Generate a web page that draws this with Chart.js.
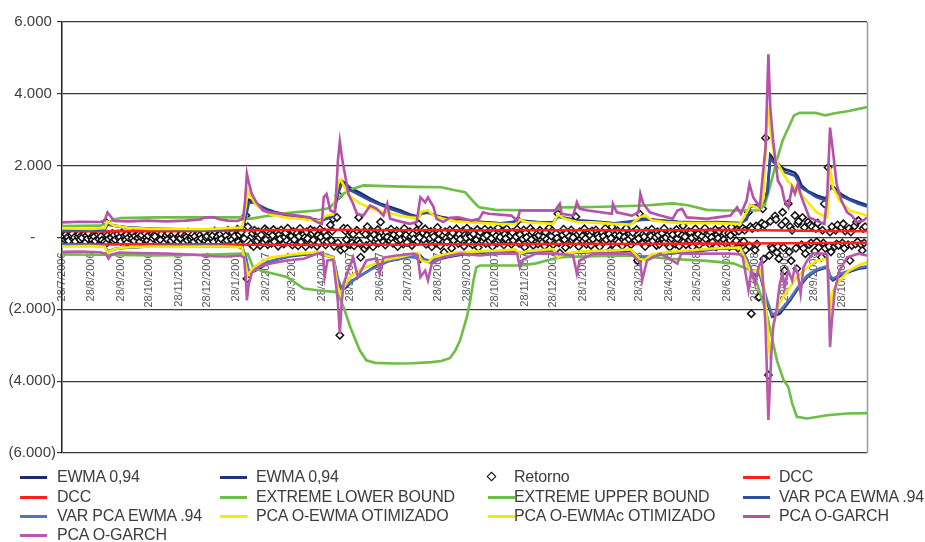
<!DOCTYPE html>
<html>
<head>
<meta charset="utf-8">
<script src="https://cdn.jsdelivr.net/npm/chart.js@4.4.1/dist/chart.umd.min.js"></script>
<style>
  html, body { margin: 0; padding: 0; background: #ffffff; }
  #wrap { position: relative; width: 925px; height: 542px; overflow: hidden; }
  #chart { position: absolute; left: 0; top: 0; }
  .lg-item { position: absolute; font-family: "Liberation Sans", Arial, sans-serif; font-size: 16px;
             letter-spacing: -0.2px; color: #3c3c3c; white-space: nowrap; line-height: 20px; height: 20px; }
  .lg-line { position: absolute; width: 27px; height: 3px; }
  .lg-diamond { position: absolute; width: 5px; height: 5px; border: 1.3px solid #000; background: #fff;
                transform: rotate(45deg); }
</style>
</head>
<body>
<div id="wrap">
  <canvas id="chart" width="925" height="542"></canvas>
</div>
<script>
// Observation days are counted from 28/7/2006.
const START_DATE = Date.UTC(2006, 6, 28);
const LAST_DAY = 849;

// Monthly axis labels
const monthLabels = [
  '28/7/2006', '28/8/2006', '28/9/2006', '28/10/2006', '28/11/2006', '28/12/2006',
  '28/1/2007', '28/2/2007', '28/3/2007', '28/4/2007', '28/5/2007', '28/6/2007',
  '28/7/2007', '28/8/2007', '28/9/2007', '28/10/2007', '28/11/2007', '28/12/2007',
  '28/1/2008', '28/2/2008', '28/3/2008', '28/4/2008', '28/5/2008', '28/6/2008',
  '28/7/2008', '28/8/2008', '28/9/2008', '28/10/2008'
];

// Y axis range
const yTicks = [-6000, -4000, -2000, 0, 2000, 4000, 6000];

// Daily return, one value per trading day starting 28/7/2006
const retorno = [
  30,-50,80,-20,10,-90,60,110,-40,0,-110,20,90,-60,40,-10,100,-130,50,-30,
  120,-10,-70,60,20,-100,90,-50,140,30,-80,-120,430,-160,60,-40,0,110,-90,70,
  -60,100,-20,10,-110,130,50,-70,80,-140,0,60,-30,120,-90,40,-10,90,-120,20,
  70,-50,110,0,-80,50,-130,90,-20,60,30,-100,140,-40,-70,100,-150,10,70,-60,
  120,-90,40,80,-30,130,-110,0,50,-20,100,-140,60,10,-80,150,-50,20,90,-120,
  30,-60,110,-100,70,-30,140,-90,0,40,-160,100,-10,60,-120,180,20,-70,-140,90,
  -40,160,-110,50,-80,200,0,-60,130,-170,40,230,-120,80,-200,150,-30,290,610,-1150,
  300,-180,20,120,-250,200,-90,160,0,-220,70,-130,240,-60,190,-200,110,-160,60,220,
  -120,150,-240,80,-40,210,-180,10,130,-90,260,-150,40,-210,170,-60,120,-230,30,250,
  -130,90,0,-250,160,-30,220,-190,110,-70,180,-240,60,-140,230,10,-100,150,-210,40,
  -120,350,-80,180,520,-240,560,-150,1170,-2720,-350,260,-300,180,-60,250,-200,120,-150,90,
  -230,200,-90,560,-170,-550,140,-310,90,-220,300,-180,-20,170,-260,80,-40,220,-150,10,
  430,-120,40,-210,150,10,-90,230,-30,-160,80,190,-250,20,110,-60,-180,250,-10,70,
  -140,160,30,-220,90,-40,200,-110,380,0,-590,130,-70,240,-190,60,-20,170,-260,100,
  20,-150,280,-60,110,-230,50,-410,160,-20,-120,210,40,-300,130,-80,240,10,-170,90,
  -50,190,-240,70,-10,260,-130,30,160,-200,100,-60,220,-280,50,150,-110,0,230,-170,
  60,-90,200,-20,-250,120,40,-150,270,-70,10,180,-210,90,-30,240,-120,50,-190,140,
  -80,20,230,470,-160,80,-40,210,-270,130,0,-110,250,-60,160,-220,30,100,-180,60,
  200,-130,10,-240,150,-50,270,-90,40,190,-200,110,-20,660,-150,-430,70,230,-60,-280,
  120,30,-190,210,-70,0,580,-140,90,-250,160,40,-100,240,-30,-190,130,60,-220,180,
  -40,210,-150,70,0,-260,140,30,-110,250,-60,100,-360,-20,300,-180,80,-90,190,-140,
  50,-230,170,10,-120,260,-50,110,-200,30,140,-80,220,-640,-30,660,-170,90,20,-250,
  180,-60,-140,40,230,-100,10,-220,160,70,-190,120,-40,250,-130,0,90,-270,150,-20,
  80,-180,220,-30,110,-240,60,330,-120,20,-200,170,-70,130,-10,-260,240,40,-150,90,
  -210,30,190,-110,260,-40,70,-190,150,0,-130,220,-260,80,-20,170,-100,230,-60,120,
  -170,120,-260,60,290,-200,150,-90,220,-300,180,-140,260,-110,200,-350,700,-240,300,-2120,
  250,-350,320,-180,280,-1660,400,800,-600,350,2770,-3830,-500,450,-250,-310,600,500,-420,-250,
  -590,350,700,-280,-920,450,940,-400,300,-650,200,610,-300,-870,380,450,-200,560,-300,280,
  -450,430,-200,350,-150,300,-380,250,-120,400,-280,-550,200,-150,940,-300,1950,-250,150,-400,
  300,-250,200,-180,350,-220,280,-150,380,-300,180,-200,250,-640,150,-220,320,-180,430,-120,
  470,-200,-360,250,-150,300
];

// Series: [day, value]
const ewmaUpper = [
  [0,220],[30,210],[45,230],[48,400],[55,330],[70,280],[93,250],[120,230],[150,220],[175,230],
  [190,250],[194,650],[197,1050],[202,1000],[209,880],[216,790],[226,700],[241,600],[262,520],[272,480],
  [278,560],[286,600],[291,1250],[295,1580],[299,1500],[304,1380],[314,1250],[325,1080],[335,950],[346,850],
  [357,750],[367,640],[376,580],[379,700],[386,720],[391,640],[402,560],[415,500],[430,460],[444,430],
  [460,400],[478,390],[483,480],[500,430],[518,420],[523,600],[530,550],[543,480],[560,450],[580,400],
  [600,380],[609,520],[615,520],[630,480],[650,440],[670,420],[690,430],[715,400],[722,520],[726,900],
  [733,850],[740,1000],[744,1300],[747,2300],[752,2150],[757,2000],[762,1900],[768,1850],[773,1800],[776,1700],
  [780,1450],[786,1300],[796,1170],[806,1080],[809,1400],[812,1450],[816,1350],[822,1200],[830,1080],[840,980],
  [849,900]
];
const ewmaLower = [
  [0,-230],[30,-220],[45,-240],[48,-400],[55,-320],[70,-280],[93,-250],[120,-240],[150,-230],[175,-240],
  [190,-260],[194,-600],[197,-1000],[202,-950],[209,-850],[216,-720],[226,-620],[241,-520],[262,-460],[272,-420],
  [278,-500],[286,-560],[291,-1200],[295,-1470],[299,-1400],[307,-1190],[321,-960],[335,-730],[346,-650],[357,-590],
  [374,-450],[379,-600],[388,-690],[395,-620],[406,-550],[427,-450],[444,-420],[460,-400],[478,-380],[483,-450],
  [500,-400],[518,-360],[523,-520],[530,-480],[543,-420],[560,-400],[580,-380],[600,-360],[609,-560],[615,-560],
  [630,-480],[650,-420],[670,-380],[690,-320],[715,-300],[722,-600],[726,-920],[729,-1100],[736,-1010],[743,-1750],
  [749,-2210],[757,-2120],[762,-1950],[768,-1750],[775,-1470],[786,-1100],[796,-920],[807,-830],[810,-1100],[813,-1190],
  [824,-1010],[840,-870],[849,-830]
];
const dccUpper = [
  [0,180],[40,170],[80,185],[120,175],[160,190],[200,200],[240,205],[280,215],[320,210],[360,200],
  [400,205],[440,195],[480,210],[520,200],[560,205],[600,195],[640,200],[680,205],[720,210],[760,195],
  [800,180],[849,175]
];
const dccLower = [
  [0,-190],[40,-195],[80,-185],[120,-195],[160,-190],[200,-200],[240,-205],[280,-200],[320,-195],[360,-200],
  [400,-190],[440,-195],[480,-185],[520,-180],[560,-175],[600,-180],[640,-175],[680,-170],[720,-165],[760,-160],
  [800,-155],[849,-150]
];
const extremeLower = [
  [0,-470],[40,-480],[100,-500],[150,-480],[190,-450],[196,-460],[202,-870],[216,-960],[237,-1100],[255,-1420],
  [269,-1470],[290,-1520],[297,-1940],[304,-2490],[314,-3140],[321,-3420],[330,-3490],[350,-3510],[370,-3500],[390,-3470],
  [400,-3440],[409,-3360],[415,-3140],[420,-2850],[427,-2210],[430,-1840],[434,-1190],[437,-830],[441,-780],[483,-780],
  [500,-720],[518,-590],[530,-540],[560,-520],[600,-500],[620,-540],[640,-590],[680,-650],[708,-720],[725,-900],
  [732,-1200],[738,-1700],[743,-2100],[748,-2700],[754,-3420],[761,-3970],[766,-4160],[770,-4610],[775,-4990],[786,-5040],
  [807,-4950],[828,-4900],[849,-4890]
];
const extremeUpper = [
  [0,320],[40,330],[48,400],[55,500],[62,540],[100,560],[150,560],[190,560],[198,520],[219,610],
  [244,700],[269,750],[282,820],[296,1210],[306,1350],[318,1450],[340,1430],[370,1410],[400,1400],[412,1330],
  [425,1260],[436,940],[440,840],[457,770],[490,760],[520,750],[527,840],[560,850],[590,870],[615,890],
  [644,950],[660,900],[680,770],[700,750],[735,760],[741,900],[745,1250],[750,1750],[755,2250],[760,2700],
  [766,3050],[772,3400],[778,3470],[795,3470],[805,3400],[815,3460],[830,3520],[849,3630]
];
const varPcaUpper = [
  [0,210],[45,220],[48,360],[60,300],[93,240],[150,215],[190,240],[194,580],[197,960],[202,980],
  [216,760],[241,570],[272,460],[286,580],[291,1200],[295,1500],[304,1320],[325,1030],[346,800],[367,610],
  [376,560],[379,660],[386,690],[402,530],[430,440],[460,390],[483,460],[518,400],[523,580],[543,460],
  [580,390],[609,480],[615,500],[650,430],[690,410],[715,390],[722,500],[726,850],[740,980],[744,1250],
  [747,2200],[752,2050],[762,1820],[773,1720],[780,1380],[796,1120],[806,1030],[809,1320],[812,1400],[822,1150],
  [840,940],[849,860]
];
const varPcaLower = [
  [0,-220],[45,-230],[48,-380],[60,-300],[93,-240],[150,-225],[190,-250],[194,-560],[197,-940],[202,-900],
  [216,-690],[241,-500],[272,-410],[286,-540],[291,-1150],[295,-1420],[304,-1250],[325,-900],[346,-640],[367,-540],
  [379,-580],[388,-650],[402,-540],[430,-420],[460,-390],[483,-430],[518,-350],[523,-500],[543,-410],[580,-370],
  [609,-520],[615,-540],[650,-410],[690,-310],[715,-290],[722,-580],[729,-1050],[736,-980],[743,-1700],[749,-2150],
  [757,-2050],[768,-1700],[775,-1420],[786,-1060],[796,-890],[807,-800],[810,-1050],[813,-1150],[824,-980],[840,-840],
  [849,-800]
];
const pcaOEwma = [
  [0,250],[30,240],[45,260],[48,440],[55,330],[70,270],[93,240],[120,240],[150,230],[175,260],
  [190,280],[194,900],[196,1300],[200,1100],[205,900],[212,760],[220,640],[235,560],[250,520],[265,480],
  [272,460],[278,600],[286,640],[291,1500],[294,1620],[299,1350],[304,1150],[314,950],[325,830],[335,730],
  [346,680],[357,600],[367,560],[376,540],[379,720],[386,760],[391,620],[402,520],[415,450],[430,420],
  [444,400],[460,380],[478,370],[483,500],[490,420],[518,380],[523,640],[530,520],[543,430],[560,420],
  [580,380],[600,360],[609,560],[615,620],[622,480],[640,420],[660,400],[690,400],[715,380],[722,700],
  [726,900],[736,800],[740,1100],[744,3600],[747,3000],[751,2300],[755,2050],[765,1580],[776,1300],[785,1030],
  [796,700],[807,560],[810,1950],[813,1400],[820,1030],[831,750],[849,610]
];
const pcaOEwmac = [
  [0,-250],[30,-240],[45,-260],[48,-420],[55,-320],[70,-270],[93,-250],[120,-260],[150,-250],[175,-250],
  [190,-280],[194,-800],[196,-1050],[200,-900],[205,-780],[212,-650],[220,-560],[235,-500],[250,-450],[265,-420],
  [272,-400],[278,-500],[286,-560],[291,-1400],[294,-1560],[299,-1300],[304,-1100],[314,-900],[325,-780],[335,-680],
  [346,-600],[357,-540],[367,-480],[376,-440],[379,-640],[386,-700],[391,-560],[402,-480],[415,-420],[430,-400],
  [444,-380],[460,-360],[478,-330],[483,-460],[490,-380],[518,-320],[523,-560],[530,-460],[543,-400],[560,-380],
  [580,-360],[600,-330],[609,-600],[615,-620],[622,-470],[640,-400],[660,-360],[690,-300],[715,-280],[722,-700],
  [726,-950],[736,-900],[740,-1300],[744,-2500],[747,-3400],[750,-2500],[755,-1900],[762,-1600],[768,-1380],[775,-1100],
  [786,-830],[796,-650],[807,-590],[810,-2030],[813,-1500],[820,-1190],[830,-920],[840,-780],[849,-690]
];
const pcaOGarchUpper = [
  [0,420],[20,440],[40,430],[45,470],[48,700],[51,600],[55,460],[70,450],[90,470],[110,450],
  [130,470],[146,500],[151,560],[160,560],[167,500],[175,470],[185,460],[191,520],[193,1000],[195,1780],
  [197,1540],[200,1220],[205,980],[212,750],[219,700],[233,660],[248,610],[262,560],[269,430],[274,380],
  [276,1120],[279,1210],[283,750],[288,700],[291,2140],[293,2670],[296,2100],[299,1680],[302,1210],[307,940],
  [311,660],[318,610],[325,890],[332,800],[339,610],[343,940],[346,520],[353,470],[367,380],[374,430],
  [378,1120],[383,980],[386,1120],[392,840],[395,520],[402,430],[409,550],[418,560],[432,470],[440,520],
  [444,700],[450,660],[474,610],[480,470],[483,750],[502,750],[520,750],[525,940],[527,660],[539,610],
  [543,980],[546,800],[555,750],[580,660],[581,940],[585,700],[601,610],[608,700],[610,1210],[613,940],
  [620,700],[631,610],[644,520],[649,750],[654,800],[659,560],[680,520],[691,560],[705,610],[712,840],
  [716,660],[722,1030],[725,1490],[729,1120],[736,840],[739,1720],[742,2500],[745,5100],[747,3600],[750,2700],
  [755,1580],[759,1400],[762,1030],[766,840],[770,1400],[773,1220],[776,1490],[780,1120],[788,560],[799,430],
  [804,380],[807,1120],[810,3060],[813,2420],[817,1490],[822,1030],[828,700],[833,610],[838,430],[845,470],
  [849,560]
];
const pcaOGarchLower = [
  [0,-400],[20,-390],[40,-410],[46,-450],[49,-590],[52,-480],[60,-420],[80,-430],[110,-450],[140,-480],
  [160,-520],[175,-530],[188,-500],[192,-560],[194,-1200],[195,-1750],[197,-1300],[200,-1000],[205,-860],[212,-780],
  [219,-730],[237,-640],[255,-590],[269,-450],[275,-420],[277,-1100],[280,-640],[286,-620],[291,-1800],[293,-2680],
  [295,-1800],[297,-1290],[302,-900],[307,-550],[312,-1100],[316,-900],[321,-640],[332,-580],[335,-1010],[339,-560],
  [353,-500],[371,-450],[375,-500],[378,-1100],[383,-920],[386,-1190],[390,-730],[402,-550],[420,-450],[441,-500],
  [460,-450],[480,-450],[483,-830],[487,-600],[500,-450],[522,-450],[539,-500],[543,-1010],[546,-640],[560,-450],
  [575,-450],[600,-450],[610,-700],[612,-1190],[617,-640],[631,-450],[649,-730],[653,-450],[680,-450],[705,-450],
  [715,-470],[718,-550],[724,-1470],[727,-920],[731,-1290],[735,-800],[738,-640],[742,-2500],[745,-5080],[748,-3300],
  [750,-2490],[754,-1940],[757,-1290],[760,-1010],[762,-1380],[766,-920],[770,-1190],[773,-830],[776,-1010],[779,-1560],
  [782,-830],[786,-640],[792,-450],[800,-450],[807,-460],[809,-2000],[810,-3050],[812,-2300],[815,-1470],[820,-920],
  [828,-550],[840,-450],[849,-500]
];

// ---- helpers ----
function dayOf(label) {
  const [d, m, y] = label.split('/').map(Number);
  return Math.round((Date.UTC(y, m - 1, d) - START_DATE) / 86400000);
}
const tickDays = monthLabels.map(dayOf);
const labelByDay = {};
tickDays.forEach((d, i) => { labelByDay[d] = monthLabels[i]; });

// trading-day calendar (weekdays only) from the start date
const tradingDays = [];
for (let d = 0; d <= LAST_DAY; d++) {
  const wd = new Date(START_DATE + d * 86400000).getUTCDay();
  if (wd !== 0 && wd !== 6) tradingDays.push(d);
}

function fmtAxis(v) {
  if (v === 0) return '-     ';
  const s = String(Math.abs(v)).replace(/\B(?=(\d{3})+(?!\d))/g, '.');
  return v < 0 ? '(' + s + ')' : s + ' ';
}
const pts = arr => arr.map(([x, y]) => ({ x, y }));

const lineSeries = (label, data, color) => ({
  label, data: pts(data), borderColor: color, backgroundColor: color,
  borderWidth: 2.6, pointRadius: 0, tension: 0, showLine: true, fill: false
});

const series = [
  lineSeries('EWMA 0,94', ewmaUpper, '#1d2a6b'),
  lineSeries('EWMA 0,94', ewmaLower, '#243377'),
  {
    label: 'Retorno', data: retorno.map((v, i) => ({ x: tradingDays[i], y: v })),
    showLine: false, pointStyle: 'rectRot', pointRadius: 3.7, pointBorderWidth: 1.5,
    borderColor: '#000000', backgroundColor: '#ffffff',
    pointBorderColor: '#111111', pointBackgroundColor: '#ffffff'
  },
  lineSeries('DCC', dccUpper, '#ff1f1f'),
  lineSeries('DCC', dccLower, '#ff1f1f'),
  lineSeries('EXTREME LOWER BOUND', extremeLower, '#6cbe45'),
  lineSeries('EXTREME UPPER BOUND', extremeUpper, '#6cbe45'),
  lineSeries('VAR PCA EWMA .94', varPcaUpper, '#2f4fa2'),
  lineSeries('VAR PCA EWMA .94', varPcaLower, '#5273bd'),
  lineSeries('PCA O-EWMA OTIMIZADO', pcaOEwma, '#fbea00'),
  lineSeries('PCA O-EWMAc OTIMIZADO', pcaOEwmac, '#f6e800'),
  lineSeries('PCA O-GARCH', pcaOGarchUpper, '#b551a9'),
  lineSeries('PCA O-GARCH', pcaOGarchLower, '#b85aac')
];
// later series are painted over earlier ones
series.forEach((s, i) => { s.order = series.length - i; });

// right edge of the plot frame
const frameEdge = {
  id: 'frameEdge',
  afterDatasetsDraw(chart) {
    const { ctx, chartArea: a } = chart;
    ctx.save();
    ctx.strokeStyle = '#9a9a9a';
    ctx.lineWidth = 1.5;
    ctx.beginPath();
    ctx.moveTo(a.right + 0.5, a.top);
    ctx.lineTo(a.right + 0.5, a.bottom);
    ctx.stroke();
    ctx.restore();
  }
};

new Chart(document.getElementById('chart'), {
  type: 'scatter',
  data: { datasets: series },
  options: {
    responsive: false,
    animation: false,
    devicePixelRatio: 1,
    layout: { padding: { left: 0, right: 58, top: 22, bottom: 89 } },
    plugins: { legend: { display: false }, tooltip: { enabled: false } },
    scales: {
      x: {
        type: 'linear',
        min: 0, max: LAST_DAY,
        position: { y: 0 },
        grid: { display: false },
        border: { display: false },
        afterBuildTicks: scale => { scale.ticks = tickDays.map(v => ({ value: v })); },
        ticks: {
          autoSkip: false, minRotation: 90, maxRotation: 90, padding: 7,
          color: '#555555',
          font: { family: '"Liberation Sans", Arial, sans-serif', size: 11 },
          callback: v => labelByDay[v] || ''
        }
      },
      y: {
        type: 'linear',
        min: -6000, max: 6000,
        afterBuildTicks: scale => { scale.ticks = yTicks.map(v => ({ value: v })); },
        afterFit: scale => { scale.width = 62; },
        grid: { color: '#3a3a3a', lineWidth: 1.2, tickLength: 5, drawTicks: true },
        border: { display: true, color: '#222222', width: 1.5 },
        ticks: {
          padding: 1, color: '#3c3c3c',
          font: { family: '"Liberation Sans", Arial, sans-serif', size: 15 },
          callback: v => fmtAxis(v)
        }
      }
    }
  },
  plugins: [frameEdge]
});

// Legend: four columns, built from the series list
const legendCols = [{ sw: 20, tx: 57 }, { sw: 220, tx: 256 }, { sw: 488, tx: 514 }, { sw: 743, tx: 779 }];
const legendRows = [477, 497, 516, 535];
const wrap = document.getElementById('wrap');
series.forEach((s, i) => {
  const col = legendCols[i % 4];
  const cy = legendRows[Math.floor(i / 4)];
  if (s.showLine === false) {
    const d = document.createElement('div');
    d.className = 'lg-diamond';
    d.style.left = col.sw + 'px';
    d.style.top = (cy - 4) + 'px';
    wrap.appendChild(d);
  } else {
    const ln = document.createElement('div');
    ln.className = 'lg-line';
    ln.style.left = col.sw + 'px';
    ln.style.top = (cy - 1) + 'px';
    ln.style.background = s.borderColor;
    wrap.appendChild(ln);
  }
  const t = document.createElement('div');
  t.className = 'lg-item';
  t.style.left = col.tx + 'px';
  t.style.top = (cy - 10) + 'px';
  t.textContent = s.label;
  wrap.appendChild(t);
});
</script>
</body>
</html>
